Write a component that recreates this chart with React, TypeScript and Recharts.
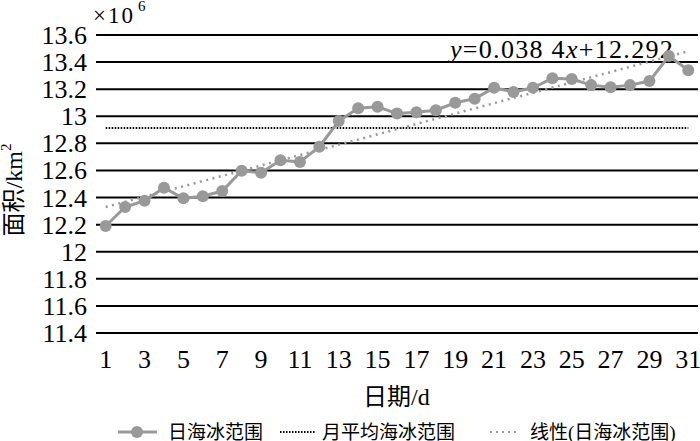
import React from 'react';
import { LineChart, Line, XAxis, YAxis, CartesianGrid, Customized } from 'recharts';

const days = [1, 2, 3, 4, 5, 6, 7, 8, 9, 10, 11, 12, 13, 14, 15, 16, 17, 18, 19, 20, 21, 22, 23, 24, 25, 26, 27, 28, 29, 30, 31];
const iceExtent = [12.19, 12.33, 12.377, 12.473, 12.394, 12.41, 12.448, 12.598, 12.583, 12.675, 12.662, 12.775, 12.965, 13.06, 13.07, 13.02, 13.03, 13.045, 13.1, 13.13, 13.21, 13.18, 13.21, 13.28, 13.275, 13.23, 13.215, 13.23, 13.26, 13.445, 13.34];
const meanDays = [1, 31];
const meanValue = 12.914;
const trendDays = [1, 31];
const trendValues = [12.33, 13.48];
const xTicks = [1, 3, 5, 7, 9, 11, 13, 15, 17, 19, 21, 23, 25, 27, 29, 31];
const yTicks = [11.4, 11.6, 11.8, 12, 12.2, 12.4, 12.6, 12.8, 13, 13.2, 13.4, 13.6];

const data = days.map((d, i) => ({ day: d, ice: iceExtent[i] }));
const meanData = meanDays.map((d) => ({ day: d, mean: meanValue }));
const trendData = trendDays.map((d, i) => ({ day: d, trend: trendValues[i] }));

const SERIF = { fontFamily: '"Liberation Serif"' };
const CJK = { fontFamily: '"Noto Sans CJK SC"' };
const GRAY = '#999999';

const Overlay = () => (
  <g fill="#000">
    <text x={93} y={23} fontSize={23} letterSpacing={2} style={SERIF}>
      ×10
      <tspan dx={3} dy={-12} fontSize={15} style={SERIF}>6</tspan>
    </text>
    <text x={450} y={58} fontSize={26} letterSpacing={1.3} style={SERIF}>
      <tspan fontStyle="italic" style={SERIF}>y</tspan>=0.038 4<tspan fontStyle="italic" style={SERIF}>x</tspan>+12.292
    </text>
    <text x={363} y={405} fontSize={24}>
      <tspan style={CJK}>日期</tspan>
      <tspan style={SERIF}>/d</tspan>
    </text>
    <text transform="translate(22, 190) rotate(-90)" fontSize={24} textAnchor="middle">
      <tspan style={CJK}>面积</tspan>
      <tspan style={SERIF}>/km</tspan>
      <tspan dy={-11} fontSize={15} style={SERIF}>2</tspan>
    </text>
    <g fontSize={19}>
      <line x1={118} y1={432} x2={157} y2={432} stroke={GRAY} strokeWidth={3} />
      <circle cx={137} cy={432} r={6} fill={GRAY} />
      <text x={168} y={439} style={CJK}>日海冰范围</text>
      <line x1={280} y1={432} x2={315} y2={432} stroke="#000" strokeWidth={2} strokeDasharray="1.5 1.5" />
      <text x={322} y={439} style={CJK}>月平均海冰范围</text>
      <line x1={490} y1={432} x2={518} y2={432} stroke={GRAY} strokeWidth={2} strokeDasharray="2 4" />
      <text x={530} y={439}>
        <tspan style={CJK}>线性</tspan>
        <tspan style={SERIF}>(</tspan>
        <tspan style={CJK}>日海冰范围</tspan>
        <tspan style={SERIF}>)</tspan>
      </text>
    </g>
  </g>
);

const XTick = (props: any) => {
  const { x, y, payload } = props;
  return (
    <text x={x} y={y + 35} textAnchor="middle" fontSize={26} fill="#000" style={SERIF}>
      {payload.value}
    </text>
  );
};

const YTick = (props: any) => {
  const { x, y, payload } = props;
  return (
    <text x={x - 9} y={y + 9} textAnchor="end" fontSize={26} fill="#000" style={SERIF}>
      {String(Number(Number(payload.value).toFixed(1)))}
    </text>
  );
};

export default function App() {
  return (
    <div style={{ position: 'absolute', left: 0, top: 0, width: 700, height: 441, background: '#fff' }}>
      <LineChart width={700} height={441} margin={{ top: 35, right: 2, bottom: 0, left: 0 }}>
        <CartesianGrid vertical={false} stroke="#000" strokeWidth={2} horizontalValues={yTicks} />
        <XAxis
          dataKey="day"
          type="number"
          domain={[0.5, 31.5]}
          ticks={xTicks}
          interval={0}
          height={108}
          axisLine={false}
          tickLine={false}
          tickSize={0}
          tickMargin={0}
          tick={<XTick />}
        />
        <YAxis
          type="number"
          domain={[11.4, 13.6]}
          ticks={yTicks}
          interval={0}
          width={96}
          axisLine={false}
          tickLine={false}
          tickSize={0}
          tickMargin={0}
          tick={<YTick />}
        />
        <Line data={meanData} dataKey="mean" stroke="#000" strokeWidth={2} strokeDasharray="1.5 1.5" dot={false} isAnimationActive={false} />
        <Line data={trendData} dataKey="trend" stroke={GRAY} strokeWidth={2.5} strokeDasharray="2 4.5" dot={false} isAnimationActive={false} />
        <Line data={data} dataKey="ice" stroke={GRAY} strokeWidth={3} dot={{ r: 6, fill: GRAY, stroke: GRAY, strokeWidth: 0 }} isAnimationActive={false} />
        <Customized component={Overlay} />
      </LineChart>
    </div>
  );
}
